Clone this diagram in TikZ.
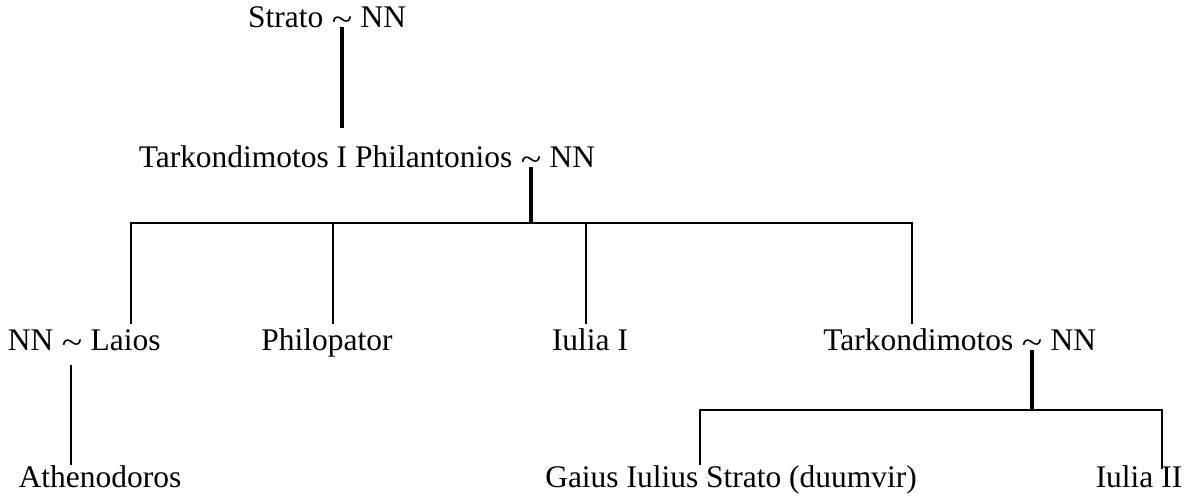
\documentclass[tikz,border=0pt]{standalone}
\usepackage{fontspec}
\setmainfont{Liberation Serif}
\usetikzlibrary{positioning}

\newcommand{\wed}{\ \raisebox{-2.6pt}{\scalebox{1.2}[1.05]{\textasciitilde}}\ \null}

\begin{document}
\begin{tikzpicture}[x=0.75pt,y=-0.75pt,
  txt/.style={inner sep=0pt,font=\fontsize{23.6}{28}\selectfont},
  link/.style={line width=2pt},
  stem/.style={line width=3pt},
  twig/.style={line width=1.6pt}]
\useasboundingbox (0,0) rectangle (1193,496);

% generation 1
\node[txt,anchor=base] (t1) at (342,27) {\wed};
\node[txt,anchor=base east] (strato) at (t1.base west) {Strato};
\node[txt,anchor=base west] (nn1) at (t1.base east) {NN};

% generation 2
\node[txt,anchor=base] (t2) at (531,167) {\wed};
\node[txt,anchor=base east] (tark1) at (t2.base west) {Tarkondimotos I Philantonios};
\node[txt,anchor=base west] (nn2) at (t2.base east) {NN};

% generation 3
\node[txt,anchor=base] (t3) at (72,350) {\wed};
\node[txt,anchor=base east] (nn3) at (t3.base west) {NN};
\node[txt,anchor=base west] (laios) at (t3.base east) {Laios};
\node[txt,anchor=base] (philo) at (327,350) {Philopator};
\node[txt,anchor=base] (iulia1) at (590,350) {Iulia I};
\node[txt,anchor=base] (t4) at (1032,350) {\wed};
\node[txt,anchor=base east] (tark2) at (t4.base west) {Tarkondimotos};
\node[txt,anchor=base west] (nn4) at (t4.base east) {NN};

% generation 4
\node[txt,anchor=base] (athen) at (100,487) {Athenodoros};
\node[txt,anchor=base] (gaius) at (731,487) {Gaius Iulius Strato (duumvir)};
\node[txt,anchor=base] (iulia2) at (1139,487) {Iulia II};

% lines
\coordinate (s1) at (342,128);
\draw[stem] (t1.base) -- (s1);

\coordinate (b1) at (531,223);
\coordinate (d1) at (131,324);
\coordinate (d2) at (333,324);
\coordinate (d3) at (586,324);
\coordinate (d4) at (912,324);
\draw[stem] (t2.base) -- (b1);
\draw[link] (d1) |- (b1) -| (d4);
\draw[link] (d2) -- (d2 |- b1);
\draw[link] (d3) -- (d3 |- b1);

\coordinate (a1) at (71,365);
\draw[twig] (a1) -- (a1 |- athen.north);

\coordinate (b2) at (1032,410);
\coordinate (g1) at (700,465);
\coordinate (g2) at (1162,469);
\draw[stem] (t4.base) -- (b2);
\draw[link] (g1) |- (b2) -| (g2);
\end{tikzpicture}
\end{document}
